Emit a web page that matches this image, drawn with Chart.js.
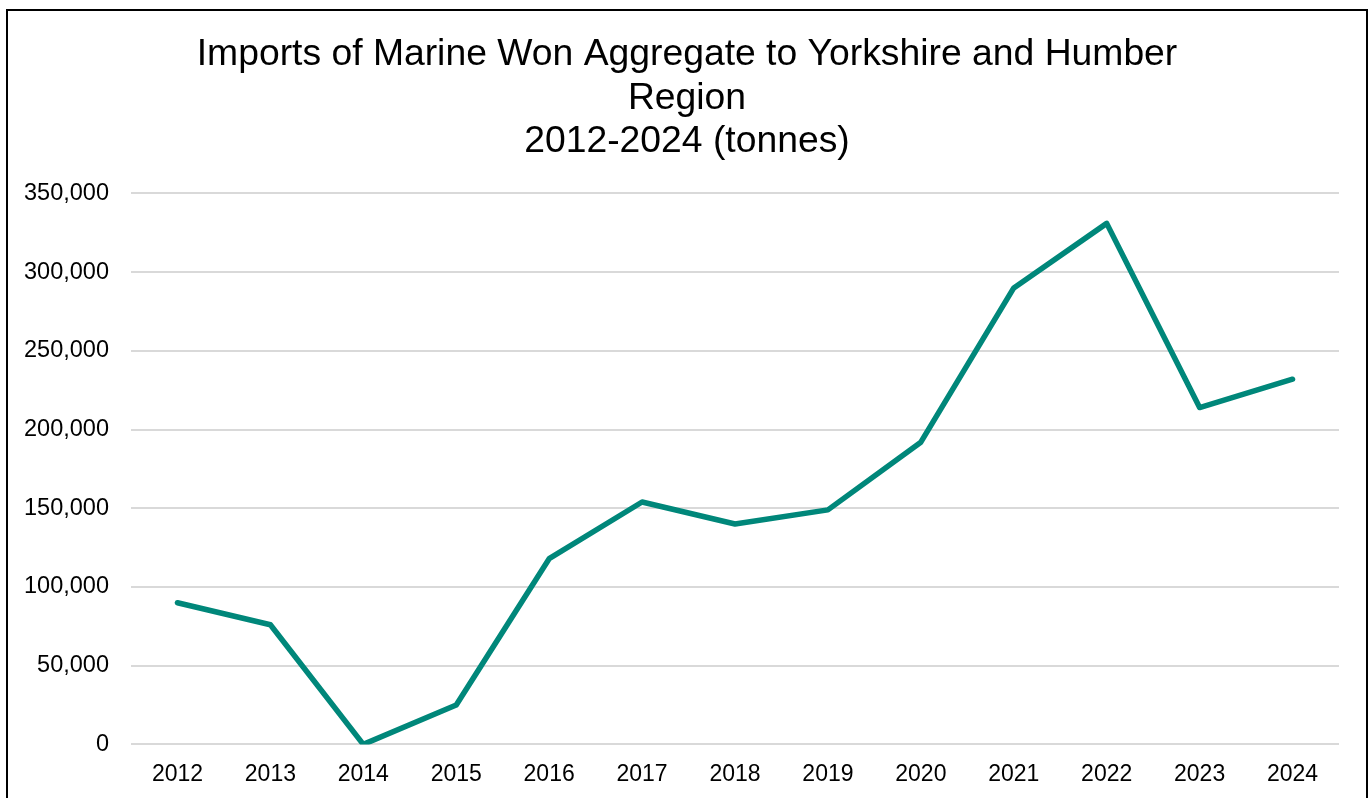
<!DOCTYPE html>
<html>
<head>
<meta charset="utf-8">
<title>Marine Won Aggregate Imports</title>
<script src="https://cdn.jsdelivr.net/npm/chart.js@4"></script>
<style>
  html, body { margin: 0; padding: 0; background: #fff; overflow: hidden; }
  #frame {
    position: absolute; left: 6px; top: 9px; width: 1358px; height: 800px;
    border: 2px solid #000; border-bottom: none; background: #fff;
  }
  #wrap { position: absolute; left: 0; top: 0; width: 1358px; height: 787px; }
</style>
</head>
<body>
<div id="frame"><div id="wrap"><canvas id="chart"></canvas></div></div>
<script>
const years = ['2012', '2013', '2014', '2015', '2016', '2017', '2018', '2019', '2020', '2021', '2022', '2023', '2024'];
const tonnes = [90000, 76000, 0, 25000, 118000, 154000, 140000, 149000, 192000, 290000, 331000, 214000, 232000];
const titleLines = ['Imports of Marine Won Aggregate to Yorkshire and Humber', 'Region', '2012-2024 (tonnes)'];

Chart.defaults.font.family = '"Liberation Sans", Arial, sans-serif';
Chart.defaults.color = '#000';

// keep the title centred on the whole canvas even though the side paddings differ
const centreTitle = {
  id: 'centreTitle',
  afterLayout(chart) {
    const t = chart.titleBlock;
    if (!t) return;
    t.left = 21;
    t.right = chart.width - 21;
    t.width = t.right - t.left;
  }
};

new Chart(document.getElementById('chart'), {
  type: 'line',
  data: {
    labels: years,
    datasets: [{
      label: 'Imports (tonnes)',
      data: tonnes,
      borderColor: '#00877A',
      backgroundColor: '#00877A',
      borderWidth: 5.5,
      pointRadius: 0,
      tension: 0,
      borderCapStyle: 'round',
      borderJoinStyle: 'round'
    }]
  },
  options: {
    responsive: true,
    maintainAspectRatio: false,
    animation: false,
    layout: { padding: { left: 15, right: 27, top: 22, bottom: 2 } },
    plugins: {
      legend: { display: false },
      tooltip: { enabled: false },
      title: {
        display: true,
        text: titleLines,
        color: '#000',
        font: { size: 37.3, weight: 'normal', lineHeight: 1.166 },
        padding: { top: 0, bottom: 30 }
      }
    },
    scales: {
      x: {
        offset: true,
        grid: { display: false },
        border: { display: false },
        ticks: { font: { size: 23 }, padding: 8, maxRotation: 0 }
      },
      y: {
        min: 0,
        max: 350000,
        // labels plus one gap only, so the grid starts just right of them
        afterFit: axis => { axis.width = 108; },
        ticks: {
          stepSize: 50000,
          font: { size: 23.5 },
          padding: 22,
          callback: v => v.toLocaleString('en-GB')
        },
        grid: { color: '#d9d9d9', lineWidth: 2, drawTicks: false },
        border: { display: false }
      }
    }
  },
  plugins: [centreTitle]
});
</script>
</body>
</html>
